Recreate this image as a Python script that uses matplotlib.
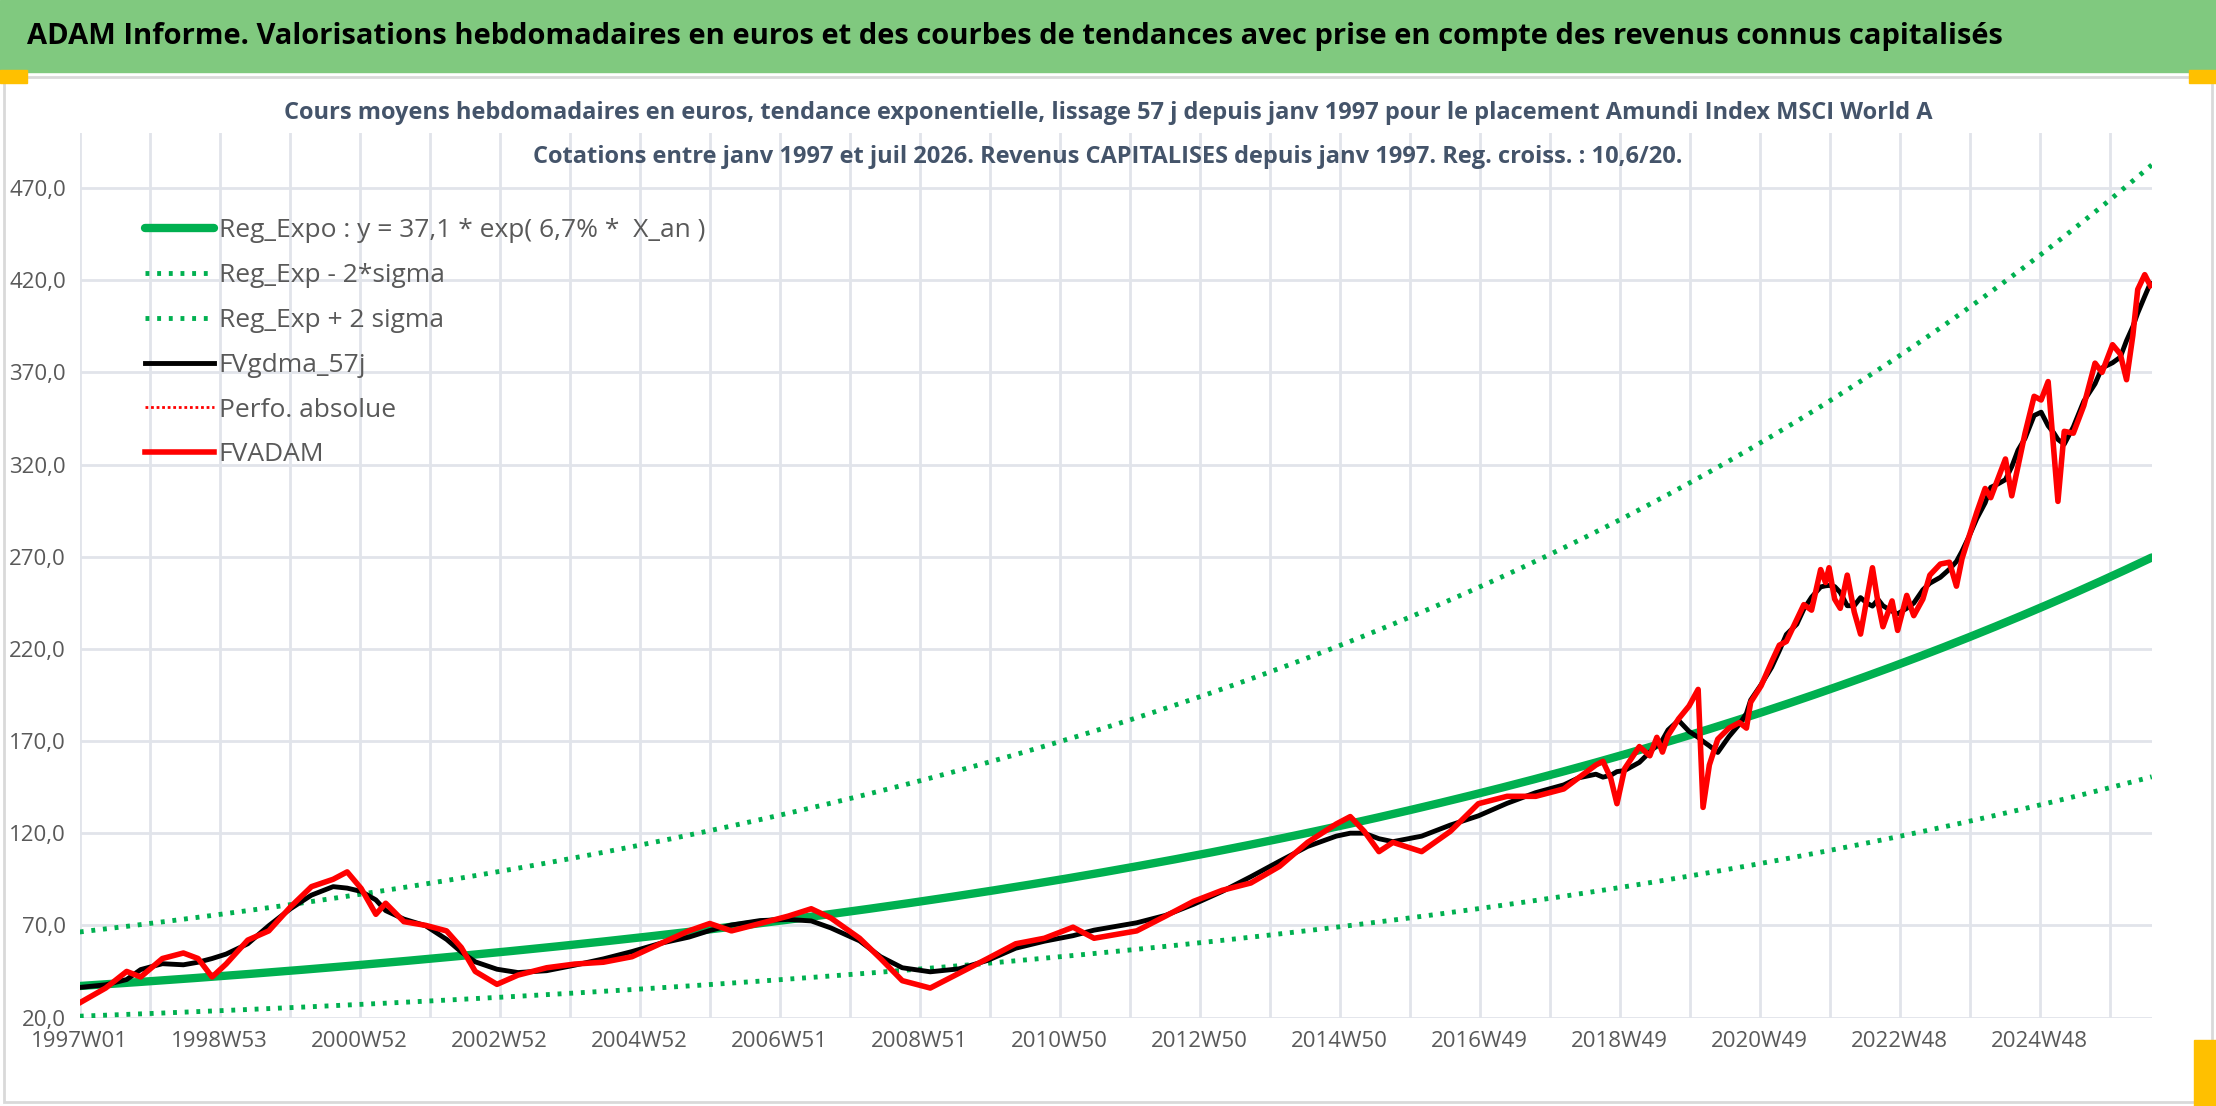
import numpy as np
import pandas as pd
import matplotlib
matplotlib.use("Agg")
import matplotlib.pyplot as plt
from matplotlib.patches import Rectangle

plt.rcParams['font.family'] = ['Open Sans', 'DejaVu Sans']

reg_a = 37.1
reg_rate = 0.067
band_factor = 1.79
x_end = 29.6  # years since 1997W01

tick_labels = ['1997W01', '1998W53', '2000W52', '2002W52', '2004W52', '2006W51', '2008W51',
               '2010W50', '2012W50', '2014W50', '2016W49', '2018W49', '2020W49', '2022W48', '2024W48']

# FVADAM: years since 1997W01 and euros
adam_t = [0.0, 0.37, 0.67, 0.87, 1.18, 1.48, 1.69, 1.89, 2.09, 2.40, 2.70, 3.01, 3.31, 3.62, 3.82,
          4.02, 4.23, 4.37, 4.63, 4.94, 5.24, 5.45, 5.65, 5.96, 6.26, 6.67, 7.07, 7.48, 7.89, 8.29,
          8.70, 9.00, 9.31, 9.72, 10.12, 10.45, 10.73, 11.14, 11.44, 11.75, 12.15, 12.56, 12.97,
          13.37, 13.78, 14.19, 14.49, 15.10, 15.51, 15.91, 16.32, 16.73, 17.14, 17.54, 17.95,
          18.15, 18.35, 18.56, 18.76, 19.17, 19.58, 19.98, 20.39, 20.80, 21.20, 21.41,
          21.66, 21.76, 21.87, 21.96, 22.07, 22.28, 22.43, 22.53, 22.61, 22.69, 22.84, 22.99,
          23.12, 23.19, 23.28, 23.40, 23.56, 23.71, 23.81, 23.87, 24.02, 24.17, 24.28, 24.38,
          24.53, 24.63, 24.74, 24.87, 24.94, 24.99, 25.07, 25.15, 25.25, 25.35, 25.44, 25.53,
          25.61, 25.69, 25.76, 25.89, 25.97, 26.10, 26.20, 26.33, 26.43, 26.58, 26.71, 26.81,
          26.89, 26.99, 27.10, 27.22, 27.30, 27.40, 27.51, 27.60, 27.69, 27.79, 27.92, 28.02,
          28.12, 28.20, 28.26, 28.35, 28.48, 28.63, 28.79, 28.89, 29.04, 29.15, 29.24, 29.33,
          29.40, 29.50, 29.58]
adam_v = [28, 36, 45, 42, 52, 55, 52, 42, 49, 62, 67, 80, 91, 95, 99,
          90, 76, 82, 72, 70, 67, 58, 45, 38, 43, 47, 49, 50, 53, 60,
          67, 71, 67, 71, 75, 79, 74, 63, 52, 40, 36, 44, 52,
          60, 63, 69, 63, 67, 75, 83, 89, 93, 102, 115, 125,
          129, 121, 110, 115, 110, 121, 136, 140, 140, 144, 150,
          157, 159, 150, 136, 155, 167, 162, 172, 164, 173, 182, 189,
          198, 134, 157, 171, 177, 180, 177, 191, 200, 213, 222, 224,
          236, 244, 241, 263, 256, 264, 247, 242, 260, 240, 228, 247,
          264, 245, 232, 246, 230, 249, 238, 247, 260, 266, 267, 254,
          269, 281, 294, 307, 302, 312, 323, 303, 319, 337, 357, 355,
          365, 328, 300, 338, 337, 352, 375, 370, 385, 380, 366, 390,
          415, 423, 417]

t_curve = np.linspace(0, x_end, 400)
reg = reg_a * np.exp(reg_rate * t_curve)
# FVgdma_57j: moving average of the FVADAM values
gdma = pd.Series(adam_v).rolling(5, center=True, min_periods=1).mean()

fig = plt.figure(figsize=(22.16, 11.06), dpi=100)
fig.patch.set_facecolor('white')
# title bar and frame
fig.patches.append(Rectangle((0, 0.935), 1, 0.065, transform=fig.transFigure, color='#80C97F', zorder=0))
fig.patches.append(Rectangle((0.002, 0.004), 0.996, 0.926, transform=fig.transFigure, fill=False,
                             edgecolor='#D9D9D9', lw=2, zorder=0))
fig.patches.append(Rectangle((0, 0.925), 0.012, 0.012, transform=fig.transFigure, color='#FFC000'))
fig.patches.append(Rectangle((0.988, 0.925), 0.012, 0.012, transform=fig.transFigure, color='#FFC000'))
fig.patches.append(Rectangle((0.99, 0.0), 0.01, 0.06, transform=fig.transFigure, color='#FFC000', zorder=0))
fig.text(0.012, 0.967, "ADAM Informe. Valorisations hebdomadaires en euros et des courbes de tendances avec prise en compte des revenus connus capitalisés",
         fontsize=21, fontweight='bold', va='center', ha='left')
fig.text(0.5, 0.898, "Cours moyens hebdomadaires en euros, tendance exponentielle, lissage 57 j depuis janv 1997 pour le placement Amundi Index MSCI World A",
         fontsize=17, fontweight='bold', color='#44546A', ha='center', va='center')
fig.text(0.5, 0.858, "Cotations entre janv 1997 et juil 2026. Revenus CAPITALISES depuis janv 1997. Reg. croiss. : 10,6/20.",
         fontsize=17, fontweight='bold', color='#44546A', ha='center', va='center')

ax = fig.add_axes([0.036, 0.08, 0.935, 0.80])
ax.plot(t_curve, reg, color='#00B050', lw=6, label='Reg_Expo : y = 37,1 * exp( 6,7% *  X_an )', solid_capstyle='round')
ax.plot(t_curve, reg / band_factor, color='#00B050', lw=3.5, ls=(0, (0.8, 1.6)), label='Reg_Exp - 2*sigma')
ax.plot(t_curve, reg * band_factor, color='#00B050', lw=3.5, ls=(0, (0.8, 1.6)), label='Reg_Exp + 2 sigma')
ax.plot(adam_t, gdma, color='black', lw=3.5, label='FVgdma_57j')
ax.plot([], [], color='#FF0000', lw=2, ls=(0, (1, 1)), label='Perfo. absolue')
ax.plot(adam_t, adam_v, color='#FF0000', lw=4, label='FVADAM')

ax.set_xlim(0, x_end)
ax.set_ylim(20, 500)
ax.set_yticks(np.arange(20, 471, 50))
ax.set_yticklabels([f"{v:.1f}".replace('.', ',') for v in np.arange(20, 471, 50)])
ax.set_xticks(np.arange(0, 29, 2))
ax.set_xticklabels(tick_labels)
ax.set_xticks(np.arange(0, 30, 1), minor=True)
ax.grid(True, which='both', color='#E1E4EA', lw=2)
ax.set_axisbelow(True)
ax.tick_params(axis='both', which='both', length=0, labelsize=16, colors='#595959', pad=10)
for s in ax.spines.values():
    s.set_visible(False)

leg = ax.legend(loc='upper left', bbox_to_anchor=(0.02, 0.93), frameon=False, fontsize=19,
                handlelength=2.6, handletextpad=0.2, labelspacing=0.75)
for txt in leg.get_texts():
    txt.set_color('#595959')

fig.savefig('out.png', dpi=100)
